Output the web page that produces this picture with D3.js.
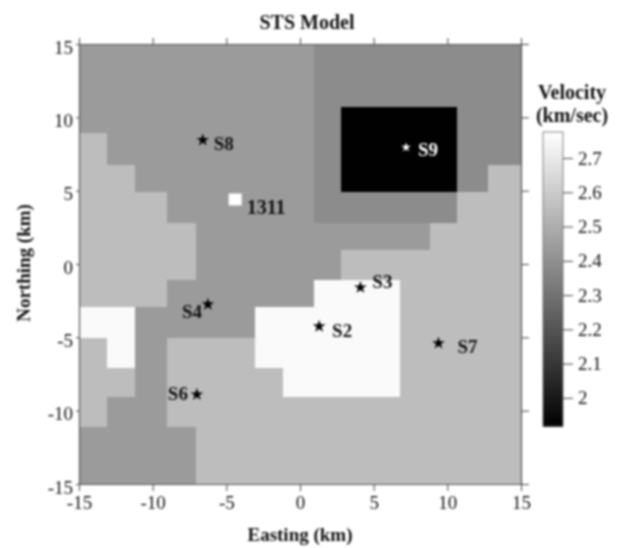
<!DOCTYPE html>
<html><head><meta charset="utf-8">
<script src="https://cdn.jsdelivr.net/npm/d3@7"></script>
<style>html,body{margin:0;padding:0;background:#fff}svg{display:block;filter:blur(0.8px)}text{font-family:"Liberation Serif",serif;fill:#111}</style>
</head><body><div id="chart"></div>
<script>
// velocity classes (km/sec)
const K = 1.92, D = 2.39, M = 2.44, L = 2.555, W = 2.76;
const eastingEdges = [-15,-13.1,-11.2,-9.03,-7.06,-5.09,-3.05,-1.15,0.95,2.79,4.82,6.79,8.83,10.66,12.77,15];
const northingEdges = [15,13.02,10.7,8.93,6.75,4.91,2.8,0.96,-1.09,-2.93,-5.04,-7.09,-9.06,-11.1,-13,-15];
const velocityRows = [
  [M,M,M,M,M,M,M,M,D,D,D,D,D,D,D],
  [M,M,M,M,M,M,M,M,D,D,D,D,D,D,D],
  [M,M,M,M,M,M,M,M,D,K,K,K,K,D,D],
  [L,M,M,M,M,M,M,M,D,K,K,K,K,D,D],
  [L,L,M,M,M,M,M,M,D,K,K,K,K,D,L],
  [L,L,L,M,M,M,M,M,D,D,D,D,D,L,L],
  [L,L,L,L,M,M,M,M,M,M,M,M,L,L,L],
  [L,L,L,L,M,M,M,M,M,L,L,L,L,L,L],
  [L,L,L,M,M,M,M,M,W,W,W,L,L,L,L],
  [W,W,M,M,M,M,W,W,W,W,W,L,L,L,L],
  [L,W,M,L,L,L,W,W,W,W,W,L,L,L,L],
  [L,L,M,L,L,L,L,W,W,W,W,L,L,L,L],
  [L,M,M,L,L,L,L,L,L,L,L,L,L,L,L],
  [M,M,M,M,L,L,L,L,L,L,L,L,L,L,L],
  [M,M,M,M,L,L,L,L,L,L,L,L,L,L,L]
];
const stationNames = ["S8","S9","S4","S6","S3","S2","S7"];
const stationEasting = [-6.6,7.2,-6.25,-7.0,4.1,1.3,9.4];
const stationNorthing = [8.45,7.95,-2.75,-8.9,-1.6,-4.25,-5.4];
const boreholeName = "1311";
const boreholeEasting = -4.4;
const boreholeNorthing = 4.4;
const axisTicks = [-15,-10,-5,0,5,10,15];
const colorbarTicks = [2,2.1,2.2,2.3,2.4,2.5,2.6,2.7];
const colorbarDomain = [1.918,2.776];

const svg = d3.select("#chart").append("svg").attr("width",619).attr("height",548);
const x = d3.scaleLinear().domain([-15,15]).range([79,521]);
const y = d3.scaleLinear().domain([-15,15]).range([484,44]);
const gray = d3.scaleLinear().domain(colorbarDomain).range(["#000","#fff"]);

const cells = velocityRows.flatMap((row,r)=>row.map((v,c)=>({v,r,c})));
svg.append("g").attr("shape-rendering","crispEdges").selectAll("rect").data(cells).join("rect")
  .attr("x",d=>x(eastingEdges[d.c])).attr("y",d=>y(northingEdges[d.r]))
  .attr("width",d=>x(eastingEdges[d.c+1])-x(eastingEdges[d.c])+0.5)
  .attr("height",d=>y(northingEdges[d.r+1])-y(northingEdges[d.r])+0.5)
  .attr("fill",d=>gray(d.v));

function styleAxis(g,size){
  g.select(".domain").attr("stroke","#555").attr("stroke-width",1.2);
  g.selectAll(".tick line").attr("stroke","#444");
  g.selectAll("text").attr("font-size",size).attr("fill","#111");
}
const fmt = d=>String(d);
svg.append("g").attr("transform","translate(0,484)")
  .call(d3.axisBottom(x).tickValues(axisTicks).tickFormat(fmt).tickSize(7).tickSizeOuter(0).tickPadding(5))
  .call(g=>styleAxis(g,19));
svg.append("g").attr("transform","translate(0,44)")
  .call(d3.axisTop(x).tickValues(axisTicks).tickFormat("").tickSize(6).tickSizeOuter(0))
  .call(g=>styleAxis(g,19));
svg.append("g").attr("transform","translate(79,0)")
  .call(d3.axisLeft(y).tickValues(axisTicks).tickFormat(fmt).tickSize(3).tickSizeOuter(0).tickPadding(3))
  .call(g=>{styleAxis(g,19);g.selectAll("text").attr("y",3);});
svg.append("g").attr("transform","translate(521,0)")
  .call(d3.axisRight(y).tickValues(axisTicks).tickFormat("").tickSize(8).tickSizeOuter(0))
  .call(g=>styleAxis(g,19));

// stations
const labelOffset = {S8:[21,6],S9:[22,4],S4:[-16,9],S6:[-19,1],S3:[22,-4],S2:[23,6],S7:[29,5]};
const stations = stationNames.map((name,i)=>({name,e:stationEasting[i],n:stationNorthing[i]}));
svg.append("g").selectAll("path").data(stations).join("path")
  .attr("d",d=>d3.symbol().type(d3.symbolStar).size(d.name==="S9"?28:50)())
  .attr("transform",d=>`translate(${x(d.e)},${y(d.n)})`)
  .attr("fill",d=>d.name==="S9"?"#fff":"#000");
svg.append("g").selectAll("text").data(stations).join("text")
  .attr("x",d=>x(d.e)+labelOffset[d.name][0]).attr("y",d=>y(d.n)+labelOffset[d.name][1])
  .attr("text-anchor","middle").attr("dominant-baseline","middle")
  .attr("font-size",19).attr("font-weight","bold")
  .style("fill",d=>d.name==="S9"?"#fff":"#111").text(d=>d.name);
svg.append("rect").attr("x",x(boreholeEasting)-6.5).attr("y",y(boreholeNorthing)-6)
  .attr("width",13).attr("height",12).attr("fill","#fff");
svg.append("text").attr("x",x(boreholeEasting)+31).attr("y",y(boreholeNorthing)+10)
  .attr("text-anchor","middle").attr("dominant-baseline","middle")
  .attr("font-size",20).attr("font-weight","bold").text(boreholeName);

// titles
svg.append("text").attr("x",307).attr("y",29).attr("text-anchor","middle").attr("font-size",20).attr("font-weight","bold").text("STS Model");
svg.append("text").attr("x",300).attr("y",541).attr("text-anchor","middle").attr("font-size",19).attr("font-weight","bold").text("Easting (km)");
svg.append("text").attr("transform","translate(30,263) rotate(-90)").attr("text-anchor","middle").attr("font-size",19).attr("font-weight","bold").text("Northing (km)");
svg.append("text").attr("x",572).attr("y",99).attr("text-anchor","middle").attr("font-size",20).attr("font-weight","bold").text("Velocity");
svg.append("text").attr("x",572).attr("y",122).attr("text-anchor","middle").attr("font-size",20).attr("font-weight","bold").text("(km/sec)");

// colour bar
const cb = d3.scaleLinear().domain(colorbarDomain).range([426,132]);
const levels = d3.range(0,295).map(i=>colorbarDomain[0]+(colorbarDomain[1]-colorbarDomain[0])*i/294);
svg.append("g").attr("shape-rendering","crispEdges").selectAll("rect").data(levels).join("rect")
  .attr("x",543).attr("width",20).attr("y",d=>cb(d)-1).attr("height",1.5).attr("fill",d=>gray(d));
svg.append("rect").attr("x",543).attr("y",132).attr("width",20).attr("height",294).attr("fill","none").attr("stroke","#666").attr("stroke-width",0.8);
svg.append("g").attr("transform","translate(563,0)")
  .call(d3.axisRight(cb).tickValues(colorbarTicks).tickFormat(fmt).tickSize(10).tickSizeOuter(0).tickPadding(5))
  .call(g=>{styleAxis(g,19);g.select(".domain").remove();});
</script></body></html>
